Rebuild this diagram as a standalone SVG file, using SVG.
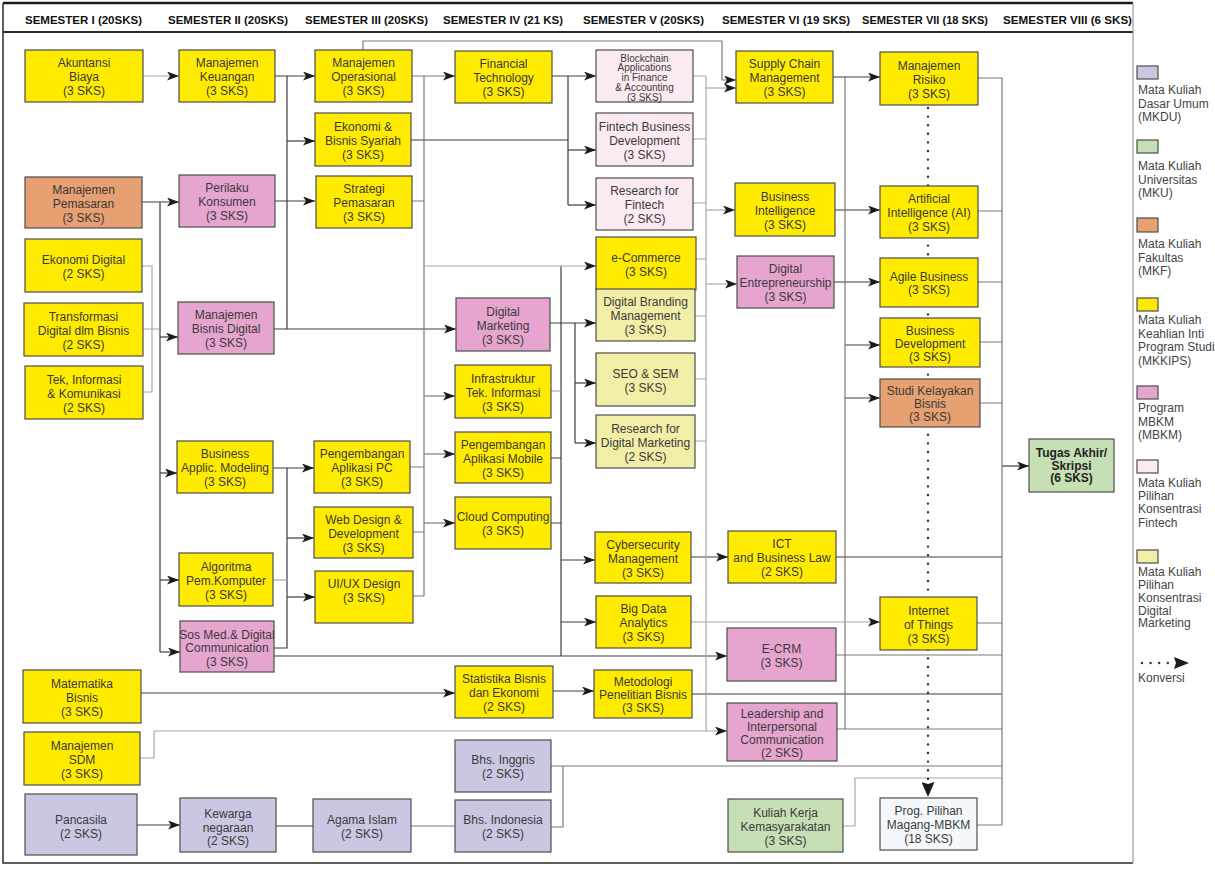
<svg xmlns="http://www.w3.org/2000/svg" width="1215" height="870" viewBox="0 0 1215 870">
<defs>
<style>
.bx{stroke:#4d4d4d;stroke-width:1.2}
.y{fill:#FFEB00}.o{fill:#E6A071}.p{fill:#E6A5CF}.l{fill:#CAC7E3}.g{fill:#C6DFB4}.fp{fill:#FBEAF1}.fy{fill:#F3EEA7}.w{fill:#F4F7FC}
text{font-family:"Liberation Sans",Arial,Helvetica,sans-serif}
.t{font-size:12px;fill:#3a3a3a;text-anchor:middle}
.s{font-size:10px}
.b{font-weight:bold;fill:#222}
.h{font-size:11.5px;font-weight:bold;fill:#111;text-anchor:middle}
.lg{font-size:12px;fill:#444}
.c{fill:none;stroke:#3c3c3c;stroke-width:1.2}
.m{stroke:#7a7a7a}
.lt{stroke:#a8a8a8}
.dot{fill:none;stroke:#333;stroke-width:2.4;stroke-linecap:round;stroke-dasharray:0 8.6}
</style>
<marker id="a" markerUnits="userSpaceOnUse" markerWidth="12" markerHeight="9" viewBox="0 0 12 9" refX="12" refY="4.5" orient="auto"><path d="M0,0L12,4.5L0,9L3,4.5z" fill="#1a1a1a"/></marker>
<marker id="ad" markerUnits="userSpaceOnUse" markerWidth="15" markerHeight="13" viewBox="0 0 15 13" refX="15" refY="6.5" orient="auto"><path d="M0,0L15,6.5L0,13L2,6.5z" fill="#1a1a1a"/></marker>
</defs>
<rect width="1215" height="870" fill="#fff"/>

<g id="frame">
<path d="M3,3H1133" stroke="#1a1a1a" stroke-width="2.5" fill="none"/>
<path d="M3,32H1133" stroke="#2a2a2a" stroke-width="2" fill="none"/>
<path d="M3,3V863H1133" stroke="#2a2a2a" stroke-width="1.5" fill="none"/>
<path d="M1133,3V863" stroke="#999" stroke-width="1.2" fill="none"/>
<text class="h" x="83.5" y="24" textLength="117" lengthAdjust="spacingAndGlyphs">SEMESTER I (20SKS)</text>
<text class="h" x="228" y="24" textLength="120" lengthAdjust="spacingAndGlyphs">SEMESTER II (20SKS)</text>
<text class="h" x="366.5" y="24" textLength="123" lengthAdjust="spacingAndGlyphs">SEMESTER III (20SKS)</text>
<text class="h" x="503" y="24" textLength="120" lengthAdjust="spacingAndGlyphs">SEMESTER IV (21 KS)</text>
<text class="h" x="643.5" y="24" textLength="121" lengthAdjust="spacingAndGlyphs">SEMESTER V (20SKS)</text>
<text class="h" x="786" y="24" textLength="128" lengthAdjust="spacingAndGlyphs">SEMESTER VI (19 SKS)</text>
<text class="h" x="925" y="24" textLength="126" lengthAdjust="spacingAndGlyphs">SEMESTER VII (18 SKS)</text>
<text class="h" x="1067.5" y="24" textLength="129" lengthAdjust="spacingAndGlyphs">SEMESTER VIII (6 SKS)</text>
</g>

<g id="connectors">
<path class="c" d="M275,76H315" marker-end="url(#a)"/>
<path class="c" d="M287,76V329"/>
<path class="c" d="M287,141H315" marker-end="url(#a)"/>
<path class="c" d="M275,201H315" marker-end="url(#a)"/>
<path class="c" d="M274,329H456" marker-end="url(#a)"/>
<path class="c" d="M142,202H179" marker-end="url(#a)"/>
<path class="c" d="M160,202V652"/>
<path class="c" d="M160,337H178" marker-end="url(#a)"/>
<path class="c" d="M160,473H177" marker-end="url(#a)"/>
<path class="c" d="M160,580H179" marker-end="url(#a)"/>
<path class="c" d="M160,652H180" marker-end="url(#a)"/>
<path class="c" d="M273,468H314" marker-end="url(#a)"/>
<path class="c" d="M287,468V648H274"/>
<path class="c" d="M287,538H314" marker-end="url(#a)"/>
<path class="c" d="M287,597H315" marker-end="url(#a)"/>
<path class="c" d="M274,656H727" marker-end="url(#a)"/>
<path class="c" d="M552,76H596" marker-end="url(#a)"/>
<path class="c" d="M411,140H568"/>
<path class="c" d="M568,76V205"/>
<path class="c" d="M568,150H596" marker-end="url(#a)"/>
<path class="c" d="M568,205H596" marker-end="url(#a)"/>
<path class="c" d="M561,266V656"/>
<path class="c" d="M551,458H561M551,523H561"/>
<path class="c" d="M561,560H595" marker-end="url(#a)"/>
<path class="c" d="M561,622H596" marker-end="url(#a)"/>
<path class="c" d="M550,323H596" marker-end="url(#a)"/>
<path class="c" d="M575,323V443"/>
<path class="c" d="M575,383H596" marker-end="url(#a)"/>
<path class="c" d="M575,443H596" marker-end="url(#a)"/>
<path class="c" d="M691,557H728" marker-end="url(#a)"/>
<path class="c" d="M836,557H1002"/>
<path class="c" d="M141,693H455" marker-end="url(#a)"/>
<path class="c" d="M553,691H594" marker-end="url(#a)"/>
<path class="c" d="M692,694H1002"/>
<path class="c" d="M137,825H180" marker-end="url(#a)"/>
<path class="c" d="M276,826H313"/>
<path class="c m" d="M551,827H563V766M551,766H1002"/>
<path class="c" d="M833,77H880" marker-end="url(#a)"/>
<path class="c" d="M835,210H880" marker-end="url(#a)"/>
<path class="c" d="M834,282H880" marker-end="url(#a)"/>
<path class="c" d="M845,345H880" marker-end="url(#a)"/>
<path class="c" d="M845,398H880" marker-end="url(#a)"/>
<path class="c" d="M1002,466H1029" marker-end="url(#a)"/>
<path class="c m" d="M363,50V41H722V80H736" marker-end="url(#a)"/>
<path class="c m" d="M412,76H455" marker-end="url(#a)"/>
<path class="c m" d="M424,76V596M412,201H424M410,467H424M413,532H424M413,596H424"/>
<path class="c m" d="M424,396H455" marker-end="url(#a)"/>
<path class="c m" d="M424,454H455" marker-end="url(#a)"/>
<path class="c m" d="M424,523H455" marker-end="url(#a)"/>
<path class="c m" d="M845,77V729"/>
<path class="c m" d="M978,78H1002V825M978,211H1002M978,282H1002M980,342H1002M980,403H1002M977,623H1002M836,655H1002M837,729H1002M977,825H1002"/>
<path class="c m" d="M411,826H455"/>
<path class="c lt" d="M143,76H179" marker-end="url(#a)"/>
<path class="c lt" d="M142,266H152V392H143M143,329H160"/>
<path class="c lt" d="M273,580H287"/>
<path class="c lt" d="M424,266H596" marker-end="url(#a)"/>
<path class="c lt" d="M551,391H561"/>
<path class="c lt" d="M706,76V731M693,76H706M693,139H706M693,203H706M696,259H706M695,316H706M695,379H706M695,441H706"/>
<path class="c lt" d="M706,88H736" marker-end="url(#a)"/>
<path class="c lt" d="M706,210H735" marker-end="url(#a)"/>
<path class="c lt" d="M706,284H737" marker-end="url(#a)"/>
<path class="c lt" d="M691,622H880" marker-end="url(#a)"/>
<path class="c lt" d="M140,758H154V731H727" marker-end="url(#a)"/>
<path class="c lt" d="M843,826H855V778H1002"/>
<path class="dot" d="M928,108V790"/>
<path fill="none" stroke="none" d="M928,780V797" marker-end="url(#ad)"/>
</g>

<g id="n_akb"><rect class="bx y" x="25" y="50" width="118" height="52"/><text class="t"><tspan x="84" y="67">Akuntansi</tspan><tspan x="84" y="81">Biaya</tspan><tspan x="84" y="95">(3 SKS)</tspan></text></g>
<g id="n_mpm"><rect class="bx o" x="25" y="177" width="117" height="51"/><text class="t"><tspan x="83.5" y="193.5">Manajemen</tspan><tspan x="83.5" y="207.5">Pemasaran</tspan><tspan x="83.5" y="221.5">(3 SKS)</tspan></text></g>
<g id="n_ekd"><rect class="bx y" x="25" y="239" width="117" height="53"/><text class="t"><tspan x="83.5" y="263.5">Ekonomi Digital</tspan><tspan x="83.5" y="277.5">(2 SKS)</tspan></text></g>
<g id="n_tdb"><rect class="bx y" x="24" y="303" width="119" height="53"/><text class="t"><tspan x="83.5" y="320.5">Transformasi</tspan><tspan x="83.5" y="334.5">Digital dlm Bisnis</tspan><tspan x="83.5" y="348.5">(2 SKS)</tspan></text></g>
<g id="n_tik"><rect class="bx y" x="25" y="366" width="118" height="53"/><text class="t"><tspan x="84" y="383.5">Tek, Informasi</tspan><tspan x="84" y="397.5">&amp; Komunikasi</tspan><tspan x="84" y="411.5">(2 SKS)</tspan></text></g>
<g id="n_mtb"><rect class="bx y" x="23" y="670" width="118" height="53"/><text class="t"><tspan x="82" y="687.5">Matematika</tspan><tspan x="82" y="701.5">Bisnis</tspan><tspan x="82" y="715.5">(3 SKS)</tspan></text></g>
<g id="n_sdm"><rect class="bx y" x="24" y="732" width="116" height="53"/><text class="t"><tspan x="82" y="749.5">Manajemen</tspan><tspan x="82" y="763.5">SDM</tspan><tspan x="82" y="777.5">(3 SKS)</tspan></text></g>
<g id="n_pnc"><rect class="bx l" x="25" y="794" width="112" height="61"/><text class="t"><tspan x="81" y="823.5">Pancasila</tspan><tspan x="81" y="837.5">(2 SKS)</tspan></text></g>

<g id="n_mku"><rect class="bx y" x="179" y="50" width="96" height="52"/><text class="t"><tspan x="227" y="67">Manajemen</tspan><tspan x="227" y="81">Keuangan</tspan><tspan x="227" y="95">(3 SKS)</tspan></text></g>
<g id="n_pk"><rect class="bx p" x="179" y="175" width="96" height="52"/><text class="t"><tspan x="227" y="192">Perilaku</tspan><tspan x="227" y="206">Konsumen</tspan><tspan x="227" y="220">(3 SKS)</tspan></text></g>
<g id="n_mbd"><rect class="bx p" x="178" y="302" width="96" height="52"/><text class="t"><tspan x="226" y="319">Manajemen</tspan><tspan x="226" y="333">Bisnis Digital</tspan><tspan x="226" y="347">(3 SKS)</tspan></text></g>
<g id="n_bam"><rect class="bx y" x="177" y="441" width="96" height="52"/><text class="t"><tspan x="225" y="458">Business</tspan><tspan x="225" y="472">Applic. Modeling</tspan><tspan x="225" y="486">(3 SKS)</tspan></text></g>
<g id="n_alg"><rect class="bx y" x="179" y="553" width="94" height="53"/><text class="t"><tspan x="226" y="570.5">Algoritma</tspan><tspan x="226" y="584.5">Pem.Komputer</tspan><tspan x="226" y="598.5">(3 SKS)</tspan></text></g>
<g id="n_smd"><rect class="bx p" x="180" y="621" width="94" height="51"/><text class="t"><tspan x="227" y="638.5">Sos Med.&amp; Digital</tspan><tspan x="227" y="652">Communication</tspan><tspan x="227" y="665.5">(3 SKS)</tspan></text></g>
<g id="n_kwn"><rect class="bx l" x="180" y="798" width="96" height="54"/><text class="t"><tspan x="228" y="818">Kewarga</tspan><tspan x="228" y="831.5">negaraan</tspan><tspan x="228" y="845">(2 SKS)</tspan></text></g>

<g id="n_mop"><rect class="bx y" x="315" y="50" width="97" height="52"/><text class="t"><tspan x="363.5" y="67">Manajemen</tspan><tspan x="363.5" y="81">Operasional</tspan><tspan x="363.5" y="95">(3 SKS)</tspan></text></g>
<g id="n_ebs"><rect class="bx y" x="315" y="113" width="96" height="53"/><text class="t"><tspan x="363" y="130.5">Ekonomi &amp;</tspan><tspan x="363" y="144.5">Bisnis Syariah</tspan><tspan x="363" y="158.5">(3 SKS)</tspan></text></g>
<g id="n_spm"><rect class="bx y" x="316" y="176" width="96" height="52"/><text class="t"><tspan x="364" y="193">Strategi</tspan><tspan x="364" y="207">Pemasaran</tspan><tspan x="364" y="221">(3 SKS)</tspan></text></g>
<g id="n_pap"><rect class="bx y" x="314" y="441" width="96" height="52"/><text class="t"><tspan x="362" y="458">Pengembangan</tspan><tspan x="362" y="472">Aplikasi PC</tspan><tspan x="362" y="486">(3 SKS)</tspan></text></g>
<g id="n_wdd"><rect class="bx y" x="314" y="507" width="99" height="51"/><text class="t"><tspan x="363.5" y="523.5">Web Design &amp;</tspan><tspan x="363.5" y="537.5">Development</tspan><tspan x="363.5" y="551.5">(3 SKS)</tspan></text></g>
<g id="n_uix"><rect class="bx y" x="315" y="571" width="98" height="52"/><text class="t"><tspan x="364" y="588">UI/UX Design</tspan><tspan x="364" y="601.5">(3 SKS)</tspan></text></g>
<g id="n_agi"><rect class="bx l" x="313" y="799" width="98" height="53"/><text class="t"><tspan x="362" y="823.5">Agama Islam</tspan><tspan x="362" y="837.5">(2 SKS)</tspan></text></g>

<g id="n_fin"><rect class="bx y" x="455" y="51" width="97" height="52"/><text class="t"><tspan x="503.5" y="68">Financial</tspan><tspan x="503.5" y="82">Technology</tspan><tspan x="503.5" y="96">(3 SKS)</tspan></text></g>
<g id="n_dmk"><rect class="bx p" x="456" y="298" width="94" height="53"/><text class="t"><tspan x="503" y="315.5">Digital</tspan><tspan x="503" y="329.5">Marketing</tspan><tspan x="503" y="343.5">(3 SKS)</tspan></text></g>
<g id="n_inf"><rect class="bx y" x="455" y="365" width="96" height="53"/><text class="t"><tspan x="503" y="382.5">Infrastruktur</tspan><tspan x="503" y="396.5">Tek. Informasi</tspan><tspan x="503" y="410.5">(3 SKS)</tspan></text></g>
<g id="n_pam"><rect class="bx y" x="455" y="432" width="96" height="51"/><text class="t"><tspan x="503" y="448.5">Pengembangan</tspan><tspan x="503" y="462.5">Aplikasi Mobile</tspan><tspan x="503" y="476.5">(3 SKS)</tspan></text></g>
<g id="n_clc"><rect class="bx y" x="455" y="497" width="96" height="52"/><text class="t"><tspan x="503" y="521">Cloud Computing</tspan><tspan x="503" y="535">(3 SKS)</tspan></text></g>
<g id="n_sbe"><rect class="bx y" x="455" y="666" width="98" height="52"/><text class="t"><tspan x="504" y="683">Statistika Bisnis</tspan><tspan x="504" y="697">dan Ekonomi</tspan><tspan x="504" y="711">(2 SKS)</tspan></text></g>
<g id="n_big"><rect class="bx l" x="455" y="740" width="96" height="52"/><text class="t"><tspan x="503" y="764">Bhs. Inggris</tspan><tspan x="503" y="778">(2 SKS)</tspan></text></g>
<g id="n_bid"><rect class="bx l" x="455" y="800" width="96" height="52"/><text class="t"><tspan x="503" y="824">Bhs. Indonesia</tspan><tspan x="503" y="838">(2 SKS)</tspan></text></g>

<g id="n_bca"><rect class="bx fp" x="596" y="50" width="97" height="52"/><text class="t s"><tspan x="644.5" y="61.5">Blockchain</tspan><tspan x="644.5" y="71.3">Applications</tspan><tspan x="644.5" y="81">in Finance</tspan><tspan x="644.5" y="90.8">&amp; Accounting</tspan><tspan x="644.5" y="100.5">(3 SKS)</tspan></text></g>
<g id="n_fbd"><rect class="bx fp" x="596" y="113" width="97" height="53"/><text class="t"><tspan x="644.5" y="130.5">Fintech Business</tspan><tspan x="644.5" y="144.5">Development</tspan><tspan x="644.5" y="158.5">(3 SKS)</tspan></text></g>
<g id="n_rff"><rect class="bx fp" x="596" y="178" width="97" height="52"/><text class="t"><tspan x="644.5" y="195">Research for</tspan><tspan x="644.5" y="209">Fintech</tspan><tspan x="644.5" y="223">(2 SKS)</tspan></text></g>
<g id="n_eco"><rect class="bx y" x="596" y="237" width="100" height="53"/><text class="t"><tspan x="646" y="261.5">e-Commerce</tspan><tspan x="646" y="275.5">(3 SKS)</tspan></text></g>
<g id="n_dbm"><rect class="bx fy" x="596" y="289" width="99" height="52"/><text class="t"><tspan x="645.5" y="306">Digital Branding</tspan><tspan x="645.5" y="320">Management</tspan><tspan x="645.5" y="334">(3 SKS)</tspan></text></g>
<g id="n_seo"><rect class="bx fy" x="596" y="353" width="99" height="53"/><text class="t"><tspan x="645.5" y="377.5">SEO &amp; SEM</tspan><tspan x="645.5" y="391.5">(3 SKS)</tspan></text></g>
<g id="n_rdm"><rect class="bx fy" x="596" y="415" width="99" height="53"/><text class="t"><tspan x="645.5" y="432.5">Research for</tspan><tspan x="645.5" y="446.5">Digital Marketing</tspan><tspan x="645.5" y="460.5">(2 SKS)</tspan></text></g>
<g id="n_cyb"><rect class="bx y" x="595" y="532" width="96" height="51"/><text class="t"><tspan x="643" y="548.5">Cybersecurity</tspan><tspan x="643" y="562.5">Management</tspan><tspan x="643" y="576.5">(3 SKS)</tspan></text></g>
<g id="n_bda"><rect class="bx y" x="596" y="596" width="95" height="52"/><text class="t"><tspan x="643.5" y="613">Big Data</tspan><tspan x="643.5" y="627">Analytics</tspan><tspan x="643.5" y="641">(3 SKS)</tspan></text></g>
<g id="n_mpb"><rect class="bx y" x="594" y="670" width="98" height="48"/><text class="t"><tspan x="643" y="686">Metodologi</tspan><tspan x="643" y="699">Penelitian Bisnis</tspan><tspan x="643" y="712">(3 SKS)</tspan></text></g>

<g id="n_scm"><rect class="bx y" x="736" y="51" width="97" height="52"/><text class="t"><tspan x="784.5" y="68">Supply Chain</tspan><tspan x="784.5" y="82">Management</tspan><tspan x="784.5" y="96">(3 SKS)</tspan></text></g>
<g id="n_bin"><rect class="bx y" x="735" y="183" width="100" height="53"/><text class="t"><tspan x="785" y="200.5">Business</tspan><tspan x="785" y="214.5">Intelligence</tspan><tspan x="785" y="228.5">(3 SKS)</tspan></text></g>
<g id="n_den"><rect class="bx p" x="737" y="256" width="97" height="52"/><text class="t"><tspan x="785.5" y="273">Digital</tspan><tspan x="785.5" y="287">Entrepreneurship</tspan><tspan x="785.5" y="301">(3 SKS)</tspan></text></g>
<g id="n_ict"><rect class="bx y" x="728" y="531" width="108" height="52"/><text class="t"><tspan x="782" y="548">ICT</tspan><tspan x="782" y="562">and Business Law</tspan><tspan x="782" y="576">(2 SKS)</tspan></text></g>
<g id="n_ecrm"><rect class="bx p" x="727" y="628" width="109" height="53"/><text class="t"><tspan x="781.5" y="652.5">E-CRM</tspan><tspan x="781.5" y="666.5">(3 SKS)</tspan></text></g>
<g id="n_lic"><rect class="bx p" x="727" y="703" width="110" height="58"/><text class="t"><tspan x="782" y="717.5">Leadership and</tspan><tspan x="782" y="730.5">Interpersonal</tspan><tspan x="782" y="743.5">Communication</tspan><tspan x="782" y="756.5">(2 SKS)</tspan></text></g>
<g id="n_kkn"><rect class="bx g" x="728" y="799" width="115" height="53"/><text class="t"><tspan x="785.5" y="816.5">Kuliah Kerja</tspan><tspan x="785.5" y="830.5">Kemasyarakatan</tspan><tspan x="785.5" y="844.5">(3 SKS)</tspan></text></g>

<g id="n_mri"><rect class="bx y" x="880" y="52" width="98" height="53"/><text class="t"><tspan x="929" y="69.5">Manajemen</tspan><tspan x="929" y="83.5">Risiko</tspan><tspan x="929" y="97.5">(3 SKS)</tspan></text></g>
<g id="n_ai"><rect class="bx y" x="880" y="186" width="98" height="52"/><text class="t"><tspan x="929" y="203">Artificial</tspan><tspan x="929" y="217">Intelligence (AI)</tspan><tspan x="929" y="231">(3 SKS)</tspan></text></g>
<g id="n_agb"><rect class="bx y" x="880" y="258" width="98" height="49"/><text class="t"><tspan x="929" y="281">Agile Business</tspan><tspan x="929" y="294">(3 SKS)</tspan></text></g>
<g id="n_bdv"><rect class="bx y" x="880" y="318" width="100" height="49"/><text class="t"><tspan x="930" y="334.5">Business</tspan><tspan x="930" y="347.5">Development</tspan><tspan x="930" y="360.5">(3 SKS)</tspan></text></g>
<g id="n_skb"><rect class="bx o" x="880" y="379" width="100" height="48"/><text class="t"><tspan x="930" y="395">Studi Kelayakan</tspan><tspan x="930" y="408">Bisnis</tspan><tspan x="930" y="421">(3 SKS)</tspan></text></g>
<g id="n_iot"><rect class="bx y" x="880" y="597" width="97" height="53"/><text class="t"><tspan x="928.5" y="614.5">Internet</tspan><tspan x="928.5" y="628.5">of Things</tspan><tspan x="928.5" y="642.5">(3 SKS)</tspan></text></g>
<g id="n_ppm"><rect class="bx w" x="880" y="798" width="97" height="52"/><text class="t"><tspan x="928.5" y="815">Prog. Pilihan</tspan><tspan x="928.5" y="829">Magang-MBKM</tspan><tspan x="928.5" y="843">(18 SKS)</tspan></text></g>

<g id="n_ta"><rect class="bx g" x="1029" y="439" width="85" height="53"/><text class="t b"><tspan x="1071.5" y="457">Tugas Akhir/</tspan><tspan x="1071.5" y="469.5">Skripsi</tspan><tspan x="1071.5" y="482">(6 SKS)</tspan></text></g>

<g id="legend">
<rect class="bx l" x="1137" y="66" width="21" height="13"/>
<text class="lg"><tspan x="1138" y="94">Mata Kuliah</tspan><tspan x="1138" y="107.5">Dasar Umum</tspan><tspan x="1138" y="121">(MKDU)</tspan></text>
<rect class="bx g" x="1137" y="140" width="21" height="13"/>
<text class="lg"><tspan x="1138" y="170">Mata Kuliah</tspan><tspan x="1138" y="183.5">Universitas</tspan><tspan x="1138" y="197">(MKU)</tspan></text>
<rect class="bx o" x="1137" y="218" width="21" height="14"/>
<text class="lg"><tspan x="1138" y="248">Mata Kuliah</tspan><tspan x="1138" y="261.5">Fakultas</tspan><tspan x="1138" y="275">(MKF)</tspan></text>
<rect class="bx y" x="1137" y="298" width="21" height="13"/>
<text class="lg"><tspan x="1138" y="324">Mata Kuliah</tspan><tspan x="1138" y="337.5">Keahlian Inti</tspan><tspan x="1138" y="351">Program Studi</tspan><tspan x="1138" y="364.5">(MKKIPS)</tspan></text>
<rect class="bx p" x="1137" y="386" width="21" height="13"/>
<text class="lg"><tspan x="1138" y="412">Program</tspan><tspan x="1138" y="425.5">MBKM</tspan><tspan x="1138" y="439">(MBKM)</tspan></text>
<rect class="bx fp" x="1137" y="460" width="21" height="13"/>
<text class="lg"><tspan x="1138" y="487">Mata Kuliah</tspan><tspan x="1138" y="500">Pilihan</tspan><tspan x="1138" y="513">Konsentrasi</tspan><tspan x="1138" y="526.5">Fintech</tspan></text>
<rect class="bx fy" x="1137" y="550" width="21" height="13"/>
<text class="lg"><tspan x="1138" y="576">Mata Kuliah</tspan><tspan x="1138" y="589">Pilihan</tspan><tspan x="1138" y="602">Konsentrasi</tspan><tspan x="1138" y="614.5">Digital</tspan><tspan x="1138" y="627">Marketing</tspan></text>
<path class="dot" d="M1142,663H1168"/>
<path d="M1174,657L1189,663L1174,669L1176,663z" fill="#1a1a1a"/>
<text class="lg" x="1138" y="682">Konversi</text>
</g>
</svg>
